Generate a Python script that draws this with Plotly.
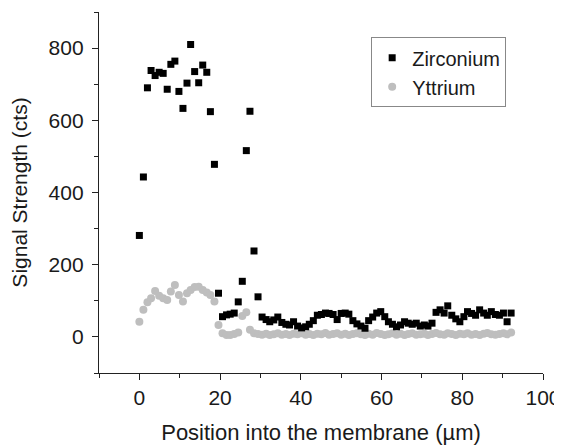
import plotly.graph_objects as go

position_um = [0.0, 1.0, 2.0, 2.9, 3.9, 4.9, 5.9, 6.9, 7.8, 8.8, 9.8, 10.8, 11.8, 12.7, 13.7,
               14.7, 15.7, 16.7, 17.6, 18.6, 19.6, 20.6, 21.6, 22.5, 23.5, 24.5, 25.5, 26.5,
               27.4, 28.4, 29.4, 30.4, 31.4, 32.3, 33.3, 34.3, 35.3, 36.3, 37.2, 38.2, 39.2,
               40.2, 41.2, 42.1, 43.1, 44.1, 45.1, 46.1, 47.0, 48.0, 49.0, 50.0, 51.0, 51.9,
               52.9, 53.9, 54.9, 55.9, 56.8, 57.8, 58.8, 59.8, 60.8, 61.7, 62.7, 63.7, 64.7,
               65.7, 66.6, 67.6, 68.6, 69.6, 70.6, 71.5, 72.5, 73.5, 74.5, 75.5, 76.4, 77.4,
               78.4, 79.4, 80.4, 81.3, 82.3, 83.3, 84.3, 85.3, 86.2, 87.2, 88.2, 89.2, 90.2,
               91.1, 92.1]

zirconium = [281, 443, 690, 738, 724, 733, 730, 686, 755, 764, 680, 633, 703, 810, 735,
             704, 753, 733, 624, 478, 121, 56, 61, 63, 66, 97, 154, 516,
             625, 238, 111, 55, 48, 42, 47, 55, 40, 35, 33, 42, 30,
             25, 28, 35, 45, 60, 62, 66, 65, 62, 48, 65, 66, 63,
             45, 36, 30, 24, 45, 55, 66, 70, 56, 42, 35, 28, 33,
             42, 38, 35, 38, 30, 33, 30, 38, 68, 75, 66, 86, 60,
             50, 42, 56, 70, 65, 60, 75, 66, 60, 70, 62, 60, 66,
             42, 66]

yttrium = [42, 75, 96, 107, 127, 114, 107, 102, 126, 144, 116, 98, 121, 130, 138,
           139, 130, 123, 116, 98, 33, 10, 5, 5, 8, 12, 58, 68,
           20, 10, 8, 6, 9, 5, 7, 10, 6, 8, 5, 9, 7,
           10, 6, 8, 5, 9, 7, 11, 6, 8, 10, 6, 9, 5,
           8, 10, 7, 5, 9, 6, 11, 8, 5, 7, 10, 6, 9,
           5, 8, 10, 6, 7, 9, 5, 8, 11, 7, 6, 10, 8,
           5, 9, 7, 10, 6, 8, 5, 9, 11, 7, 6, 8, 10,
           7, 12]

x_ticks = [0, 20, 40, 60, 80, 100]
y_ticks = [0, 200, 400, 600, 800]

FONT = "Liberation Sans, Arial, sans-serif"

fig = go.Figure()
fig.add_trace(go.Scatter(
    x=position_um, y=yttrium, mode="markers", name="Yttrium",
    marker=dict(symbol="circle", size=8, color="#bebebe", line=dict(width=0)),
))
fig.add_trace(go.Scatter(
    x=position_um, y=zirconium, mode="markers", name="Zirconium",
    marker=dict(symbol="square", size=7, color="#000000", line=dict(width=0)),
))

axis_common = dict(
    showgrid=False, zeroline=False, showline=True, linecolor="#222222", linewidth=1.3,
    ticks="outside", ticklen=6, tickwidth=1.3, tickcolor="#222222",
    tickfont=dict(family=FONT, size=21, color="#1a1a1a"),
    automargin=False,
)

# page body has an 8px default margin, so the figure is sized to fill the rest of the window
fig.update_layout(
    width=554, height=437,
    margin=dict(l=91, r=19, t=4, b=72),
    paper_bgcolor="white", plot_bgcolor="white",
    font=dict(family=FONT, size=20, color="#1a1a1a"),
    showlegend=True,
    legend=dict(
        x=0.613, y=0.93, xanchor="left", yanchor="top",
        bordercolor="#888888", borderwidth=1, bgcolor="white",
        font=dict(family=FONT, size=20, color="#1a1a1a"),
        traceorder="reversed", itemwidth=30, tracegroupgap=0,
    ),
    xaxis=dict(
        range=[-10, 100], tickvals=x_ticks,
        minor=dict(ticks="outside", ticklen=4, dtick=10, tick0=0, tickcolor="#222222", tickwidth=1.3),
        title=dict(text="Position into the membrane (µm)", font=dict(family=FONT, size=22), standoff=17),
        **axis_common,
    ),
    yaxis=dict(
        range=[-100, 900], tickvals=y_ticks,
        minor=dict(ticks="outside", ticklen=4, dtick=100, tick0=0, tickcolor="#222222", tickwidth=1.3),
        title=dict(text="Signal Strength (cts)", font=dict(family=FONT, size=21), standoff=16),
        ticklabelstandoff=4,
        **axis_common,
    ),
)

fig.write_html("out.html")
